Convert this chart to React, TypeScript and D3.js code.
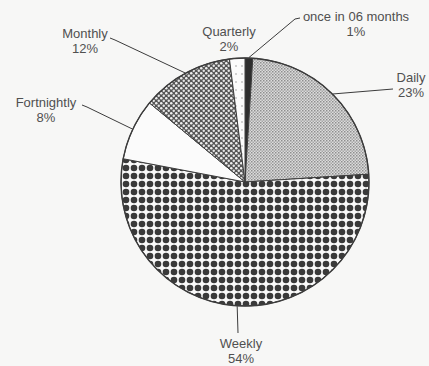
import React from "react";
import * as d3 from "d3";

// Survey: how often respondents buy
const categories = ["once in 06 months", "Daily", "Weekly", "Fortnightly", "Monthly", "Quarterly"];
const shares = [1, 23, 54, 8, 12, 2];

const W = 429;
const H = 366;
const cx = 245;
const cy = 182;
const R = 124;

const fills: Record<string, string> = {
  "once in 06 months": "#2e2e2e",
  Daily: "url(#patDaily)",
  Weekly: "url(#patWeekly)",
  Fortnightly: "#fbfbfb",
  Monthly: "url(#patMonthly)",
  Quarterly: "url(#patQuarterly)",
};

// label placement: text centre x, first baseline, and the leader's elbow points
type Layout = { x: number; y: number; elbow: [number, number][] | null };
const layout: Record<string, Layout> = {
  "once in 06 months": { x: 356, y: 21, elbow: [[300, 18], [295, 19]] },
  Daily: { x: 411, y: 82, elbow: [[393, 89]] },
  Weekly: { x: 241, y: 348, elbow: [[238, 333]] },
  Fortnightly: { x: 46, y: 107, elbow: [[82, 105], [87, 107]] },
  Monthly: { x: 85, y: 38, elbow: [[110, 38], [115, 40]] },
  Quarterly: { x: 229, y: 36, elbow: null },
};

export default function App() {
  const pie = d3
    .pie<number>()
    .sort(null)
    .value((d) => d)
    .startAngle(0)
    .endAngle(2 * Math.PI);
  const arcs = pie(shares);
  const arcGen = d3.arc<d3.PieArcDatum<number>>().innerRadius(0).outerRadius(R);

  const ink = "#3c3c3c";
  const textInk = "#505050";

  return (
    <svg
      width={W}
      height={H}
      style={{ position: "absolute", left: 0, top: 0, background: "#f7f7f6" }}
      fontFamily="'Liberation Sans', Arial, sans-serif"
    >
      <defs>
        <pattern id="patDaily" width={3} height={3} patternUnits="userSpaceOnUse">
          <rect width={3} height={3} fill="#dcdcdc" />
          <rect x={0} y={0} width={1.5} height={1.5} fill="#8e8e8e" />
          <rect x={1.5} y={1.5} width={1.5} height={1.5} fill="#a6a6a6" />
        </pattern>
        <pattern id="patWeekly" width={8} height={8} patternUnits="userSpaceOnUse" x={cx} y={cy}>
          <rect width={8} height={8} fill="#fafafa" />
          <circle cx={4} cy={4} r={3.3} fill="#3a3a3a" />
        </pattern>
        <pattern id="patMonthly" width={5} height={5} patternUnits="userSpaceOnUse">
          <rect width={5} height={5} fill="#555" />
          <circle cx={1.25} cy={1.25} r={1.25} fill="#f0f0f0" />
          <circle cx={3.75} cy={3.75} r={1.2} fill="#e6e6e6" />
        </pattern>
        <pattern id="patQuarterly" width={6} height={8} patternUnits="userSpaceOnUse">
          <rect width={6} height={8} fill="#fbfbfb" />
          <circle cx={3} cy={4} r={0.7} fill="#888" />
        </pattern>
      </defs>

      <g transform={`translate(${cx},${cy})`}>
        {arcs.map((a, i) => (
          <path
            key={categories[i]}
            d={arcGen(a) ?? ""}
            fill={fills[categories[i]]}
            stroke={ink}
            strokeWidth={1}
          />
        ))}
        <circle r={R} fill="none" stroke={ink} strokeWidth={1.4} />
      </g>

      {arcs.map((a, i) => {
        const name = categories[i];
        const lay = layout[name];
        const mid = (a.startAngle + a.endAngle) / 2;
        const ax = cx + (R + 0.5) * Math.sin(mid);
        const ay = cy - (R + 0.5) * Math.cos(mid);
        const pts: [number, number][] = lay.elbow ? [...lay.elbow, [ax, ay]] : [];
        return (
          <g key={name}>
            {pts.length > 0 && (
              <path
                d={d3.line()(pts) ?? ""}
                fill="none"
                stroke={ink}
                strokeWidth={1}
              />
            )}
            <text
              x={lay.x}
              y={lay.y}
              textAnchor="middle"
              fontSize={13}
              fill={textInk}
            >
              {name}
            </text>
            <text
              x={lay.x}
              y={lay.y + 15}
              textAnchor="middle"
              fontSize={13}
              fill={textInk}
            >
              {`${shares[i]}%`}
            </text>
          </g>
        );
      })}
    </svg>
  );
}
